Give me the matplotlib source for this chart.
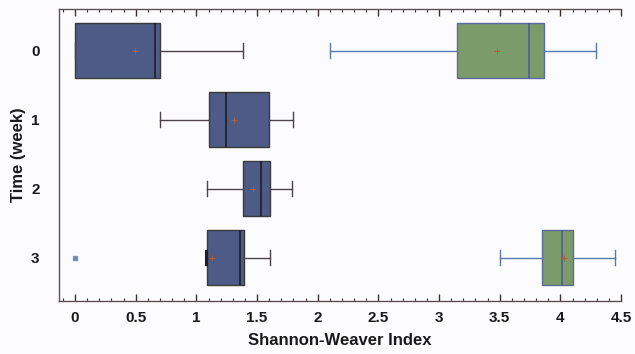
import matplotlib
matplotlib.use("Agg")
import matplotlib.pyplot as plt
from matplotlib.ticker import MultipleLocator

plt.rcParams['font.family'] = ['Liberation Sans', 'DejaVu Sans']

weeks = [0, 1, 2, 3]
week_labels = ["0", "1", "2", "3"]

# Series A (blue), one box per week
a_whislo = [0.00, 0.70, 1.09, 1.08]
a_q1 = [0.00, 1.10, 1.385, 1.085]
a_med = [0.66, 1.24, 1.535, 1.36]
a_q3 = [0.70, 1.595, 1.61, 1.395]
a_whishi = [1.385, 1.795, 1.79, 1.61]
a_mean = [0.49, 1.31, 1.465, 1.13]
a_fliers = [[], [], [], [0.0]]

# Series B (green), weeks 0 and 3
b_weeks = [0, 3]
b_whislo = [2.10, 3.505]
b_q1 = [3.145, 3.845]
b_med = [3.74, 4.012]
b_q3 = [3.862, 4.105]
b_whishi = [4.295, 4.452]
b_mean = [3.475, 4.027]
b_fliers = [[], []]

x_ticks = [0, 0.5, 1, 1.5, 2, 2.5, 3, 3.5, 4, 4.5]
x_tick_labels = ["0", "0.5", "1", "1.5", "2", "2.5", "3", "3.5", "4", "4.5"]

bg = '#fcfcfe'
fig = plt.figure(figsize=(6.35, 3.54), dpi=100, facecolor=bg)
ax = fig.add_axes([0.093, 0.150, 0.885, 0.825], facecolor=bg)

def stats(wl, q1, med, q3, wh, mean, fl):
    return [dict(whislo=a, q1=b, med=c, q3=d, whishi=e, mean=f, fliers=g)
            for a, b, c, d, e, f, g in zip(wl, q1, med, q3, wh, mean, fl)]

sa = stats(a_whislo, a_q1, a_med, a_q3, a_whishi, a_mean, a_fliers)
sb = stats(b_whislo, b_q1, b_med, b_q3, b_whishi, b_mean, b_fliers)

common = dict(vert=False, widths=0.8, patch_artist=True, showmeans=True)
ax.bxp(sa, positions=weeks, **common,
       boxprops=dict(facecolor='#4f5b87', edgecolor='#3a3a3a', linewidth=1.0),
       medianprops=dict(color='#1e1e28', linewidth=1.2),
       whiskerprops=dict(color='#4a4444', linewidth=1.0),
       capprops=dict(color='#4a4444', linewidth=1.0),
       capwidths=0.22,
       meanprops=dict(marker='+', markeredgecolor='#b0603a', markersize=4, markeredgewidth=0.7),
       flierprops=dict(marker='s', markerfacecolor='#5b8ca8', markeredgecolor='#7f8fc0', markersize=3.5))
ax.bxp(sb, positions=b_weeks, **common,
       boxprops=dict(facecolor='#7b9b6a', edgecolor='#5a6a9a', linewidth=1.0),
       medianprops=dict(color='#4a5f95', linewidth=1.2),
       whiskerprops=dict(color='#5a77b0', linewidth=1.0),
       capprops=dict(color='#5a77b0', linewidth=1.0),
       capwidths=0.22,
       meanprops=dict(marker='+', markeredgecolor='#b0603a', markersize=4, markeredgewidth=0.7),
       flierprops=dict(marker='s', markerfacecolor='#5b8ca8', markeredgecolor='#7f8fc0', markersize=3.5))

# thick left whisker mark for week 3 (whisker end equals Q1)
ax.plot([a_whislo[3], a_whislo[3]], [3 - 0.1, 3 + 0.1], color='#1e1e28', linewidth=2.2)

ax.set_xlim(-0.132, 4.5)
ax.set_ylim(3.63, -0.61)
ax.set_yticks(weeks)
ax.set_yticklabels(week_labels, fontsize=11, fontweight='bold', color='#1a1a1a')
ax.set_xticks(x_ticks)
ax.set_xticklabels(x_tick_labels, fontsize=11, fontweight='bold', color='#1a1a1a')
ax.xaxis.set_minor_locator(MultipleLocator(0.1))
ax.tick_params(axis='y', length=0, pad=14)
ax.tick_params(axis='x', which='major', direction='in', length=5, width=1.0,
               color='#3a3030', top=True, pad=7)
ax.tick_params(axis='x', which='minor', direction='in', length=2.5, width=0.8,
               color='#3a3030', top=True)

for s in ['left', 'bottom', 'top']:
    ax.spines[s].set_color('#5a5050')
    ax.spines[s].set_linewidth(1.0)
ax.spines['right'].set_visible(False)

ax.set_xlabel("Shannon-Weaver Index", fontsize=12, fontweight='bold', color='#1a1a1a', labelpad=6)
ax.set_ylabel("Time (week)", fontsize=12, fontweight='bold', color='#1a1a1a', labelpad=4)

fig.savefig("out.png", dpi=100, facecolor=bg)
